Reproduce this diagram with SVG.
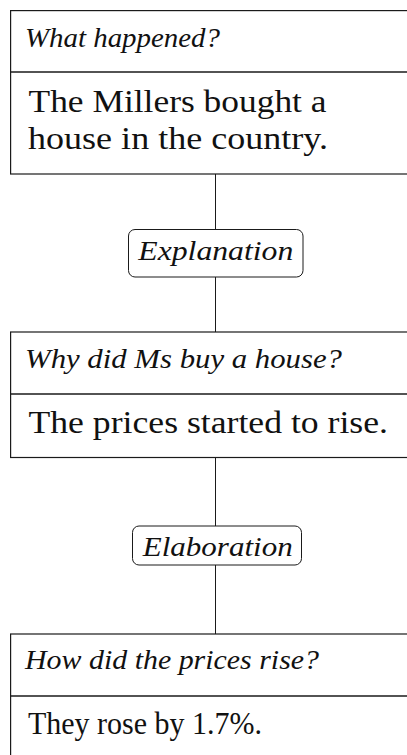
<svg xmlns="http://www.w3.org/2000/svg" width="407" height="755" viewBox="0 0 407 755">
  <style>
    .box { fill: #ffffff; stroke: #1a1a1a; stroke-width: 1.2; }
    .div { stroke: #1a1a1a; stroke-width: 1.7; }
    .lbl { fill: #ffffff; stroke: #1a1a1a; stroke-width: 1; }
    .conn { stroke: #1a1a1a; stroke-width: 1; fill: none; }
    .q { font-family: "Liberation Serif", "Times New Roman", serif; font-style: italic; font-size: 27px; fill: #111111; }
    .a { font-family: "Liberation Serif", "Times New Roman", serif; font-size: 31.5px; fill: #111111; }
  </style>
  <rect width="407" height="755" fill="#ffffff"/>
  <g id="connectors">
    <line class="conn" x1="215.5" y1="174" x2="215.5" y2="229.5"/>
    <line class="conn" x1="215.5" y1="277" x2="215.5" y2="332"/>
    <line class="conn" x1="215.5" y1="457.5" x2="215.5" y2="526"/>
    <line class="conn" x1="215.5" y1="565" x2="215.5" y2="634"/>
  </g>
  <g id="node1">
    <rect class="box" x="10.6" y="10.6" width="420" height="163.4"/>
    <line class="div" x1="10.6" y1="72" x2="420" y2="72"/>
    <text class="q" x="25" y="47" textLength="195" lengthAdjust="spacingAndGlyphs">What happened?</text>
    <text class="a" x="28.5" y="111.5" textLength="298" lengthAdjust="spacingAndGlyphs">The Millers bought a</text>
    <text class="a" x="28" y="149" textLength="300" lengthAdjust="spacingAndGlyphs">house in the country.</text>
  </g>
  <g id="label-explanation">
    <rect class="lbl" x="128.5" y="229.5" width="174.5" height="47.5" rx="6.5"/>
    <text class="q" x="138.3" y="260" textLength="155" lengthAdjust="spacingAndGlyphs">Explanation</text>
  </g>
  <g id="node2">
    <rect class="box" x="10.6" y="332" width="420" height="125.5"/>
    <line class="div" x1="10.6" y1="394" x2="420" y2="394"/>
    <text class="q" x="25" y="367.5" textLength="317" lengthAdjust="spacingAndGlyphs">Why did Ms buy a house?</text>
    <text class="a" x="28.5" y="433" textLength="359.5" lengthAdjust="spacingAndGlyphs">The prices started to rise.</text>
  </g>
  <g id="label-elaboration">
    <rect class="lbl" x="132.5" y="526" width="169" height="39" rx="6.5"/>
    <text class="q" x="142.7" y="555.5" textLength="150" lengthAdjust="spacingAndGlyphs">Elaboration</text>
  </g>
  <g id="node3">
    <rect class="box" x="10.6" y="634" width="420" height="140"/>
    <line class="div" x1="10.6" y1="696" x2="420" y2="696"/>
    <text class="q" x="25" y="669" textLength="294" lengthAdjust="spacingAndGlyphs">How did the prices rise?</text>
    <text class="a" x="28" y="734" textLength="234" lengthAdjust="spacingAndGlyphs">They rose by 1.7%.</text>
  </g>
</svg>
